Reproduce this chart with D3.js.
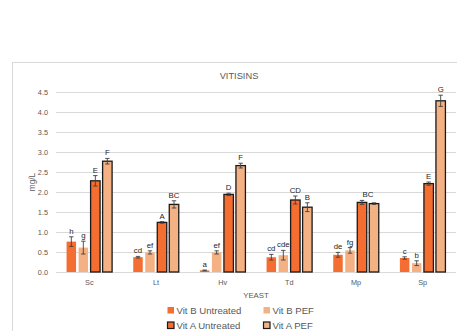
<!DOCTYPE html>
<html>
<head>
<meta charset="utf-8">
<script src="https://cdn.jsdelivr.net/npm/d3@7"></script>
<style>
  html, body { margin: 0; padding: 0; background: #ffffff; }
  svg { display: block; font-family: "Liberation Sans", Arial, sans-serif; }
</style>
</head>
<body>
<svg id="chart" width="457" height="331"></svg>
<script>
// Yeast strains on the x axis
const yeasts = ["Sc", "Lt", "Hv", "Td", "Mp", "Sp"];
// Treatments (bar series)
const seriesNames = ["Vit B Untreated", "Vit B PEF", "Vit A Untreated", "Vit A PEF"];

// Mean concentration, mg/L, one array per series (ordered like yeasts)
const vitBUntreated = [0.76, 0.37, 0.04, 0.37, 0.43, 0.35];
const vitBPEF       = [0.61, 0.49, 0.49, 0.42, 0.54, 0.22];
const vitAUntreated = [2.28, 1.24, 1.94, 1.80, 1.74, 2.21];
const vitAPEF       = [2.77, 1.69, 2.66, 1.62, 1.71, 4.28];

// Standard deviations
const errVitBUntreated = [0.12, 0.02, 0.01, 0.07, 0.06, 0.03];
const errVitBPEF       = [0.16, 0.04, 0.04, 0.12, 0.07, 0.06];
const errVitAUntreated = [0.13, 0.02, 0.03, 0.10, 0.05, 0.04];
const errVitAPEF       = [0.07, 0.09, 0.06, 0.11, 0.02, 0.14];

// Significance letters
const lettersVitBUntreated = ["h", "cd", "a", "cd", "de", "c"];
const lettersVitBPEF       = ["g", "ef", "ef", "cde", "fg", "b"];
const lettersVitAUntreated = ["E", "A", "D", "CD", "BC", "E"];
const lettersVitAPEF       = ["F", "BC", "F", "B", "", "G"];

// Y axis ticks
const yTicks = [0, 0.5, 1.0, 1.5, 2.0, 2.5, 3.0, 3.5, 4.0, 4.5];

const values = [vitBUntreated, vitBPEF, vitAUntreated, vitAPEF];
const errors = [errVitBUntreated, errVitBPEF, errVitAUntreated, errVitAPEF];
const letters = [lettersVitBUntreated, lettersVitBPEF, lettersVitAUntreated, lettersVitAPEF];

const fills = ["#f46d31", "#f4b183", "#f46d31", "#f4b183"];
const outlined = [false, false, true, true];

const rows = [];
yeasts.forEach((y, i) => {
  seriesNames.forEach((s, j) => {
    rows.push({ yeast: y, series: s, si: j, value: values[j][i], err: errors[j][i], letter: letters[j][i] });
  });
});

const svg = d3.select("#chart");
const textColor = "#595959";
const gridColor = "#d9d9d9";

// chart frame
svg.append("rect")
  .attr("x", 12.5).attr("y", 62.5)
  .attr("width", 454).attr("height", 290)
  .attr("fill", "#ffffff").attr("stroke", "#d9d9d9").attr("stroke-width", 1);

const plot = { left: 56, right: 456, top: 92, bottom: 272 };

const x0 = d3.scaleBand().domain(yeasts).range([plot.left, plot.right]).padding(0);
const x1 = d3.scaleBand().domain(seriesNames).range([0, x0.bandwidth()])
  .paddingInner(0.21).paddingOuter(0.88);
const y = d3.scaleLinear().domain([0, 4.5]).range([plot.bottom, plot.top]);

// gridlines
svg.append("g")
  .selectAll("line")
  .data(yTicks)
  .join("line")
  .attr("x1", plot.left).attr("x2", plot.right)
  .attr("y1", d => Math.round(y(d)) + 0.5).attr("y2", d => Math.round(y(d)) + 0.5)
  .attr("stroke", gridColor).attr("stroke-width", 1);

// y axis labels
const yAxis = d3.axisLeft(y).tickValues(yTicks).tickFormat(d3.format(".1f")).tickSize(0).tickPadding(8);
const yg = svg.append("g").attr("transform", `translate(${plot.left},0)`).call(yAxis);
yg.select(".domain").remove();
yg.selectAll("text").attr("fill", textColor).attr("font-size", 7.3).attr("font-family", "Liberation Sans, Arial, sans-serif");

// x axis labels
const xAxis = d3.axisBottom(x0).tickSize(0).tickPadding(8);
const xg = svg.append("g").attr("transform", `translate(0,${plot.bottom})`).call(xAxis);
xg.select(".domain").remove();
xg.selectAll("text").attr("fill", textColor).attr("font-size", 7.3).attr("font-family", "Liberation Sans, Arial, sans-serif");

// bars
const groups = svg.append("g").selectAll("g")
  .data(yeasts)
  .join("g")
  .attr("transform", d => `translate(${x0(d)},0)`);

groups.selectAll("rect")
  .data(d => rows.filter(r => r.yeast === d))
  .join("rect")
  .attr("x", d => x1(d.series))
  .attr("y", d => y(d.value))
  .attr("width", x1.bandwidth())
  .attr("height", d => y(0) - y(d.value))
  .attr("fill", d => fills[d.si])
  .attr("stroke", d => outlined[d.si] ? "#1a1a1a" : "none")
  .attr("stroke-width", 1.3);

// error bars
const eb = groups.selectAll("g.err")
  .data(d => rows.filter(r => r.yeast === d))
  .join("g").attr("class", "err");
const cx = d => x1(d.series) + x1.bandwidth() / 2;
eb.append("line")
  .attr("x1", cx).attr("x2", cx)
  .attr("y1", d => y(d.value + d.err)).attr("y2", d => y(d.value - d.err))
  .attr("stroke", "#404040").attr("stroke-width", 0.9);
eb.append("line")
  .attr("x1", d => cx(d) - 2.2).attr("x2", d => cx(d) + 2.2)
  .attr("y1", d => y(d.value + d.err)).attr("y2", d => y(d.value + d.err))
  .attr("stroke", "#404040").attr("stroke-width", 0.9);
eb.append("line")
  .attr("x1", d => cx(d) - 2.2).attr("x2", d => cx(d) + 2.2)
  .attr("y1", d => y(d.value - d.err)).attr("y2", d => y(d.value - d.err))
  .attr("stroke", "#404040").attr("stroke-width", 0.9);

// significance letters sit just above each error bar;
// the Mp "BC" is shared by both Vit A bars, so it sits between them
const sharedLabel = d => d.yeast === "Mp" && d.series === "Vit A Untreated";
groups.selectAll("text.letter")
  .data(d => rows.filter(r => r.yeast === d && r.letter))
  .join("text").attr("class", "letter")
  .attr("x", d => cx(d) + (sharedLabel(d) ? x1.step() / 2 : 0))
  .attr("y", d => y(d.value + d.err) - 3)
  .attr("text-anchor", "middle")
  .attr("font-size", 7.8)
  .attr("fill", "#262626")
  .text(d => d.letter);

// title
svg.append("text")
  .attr("x", 239).attr("y", 79)
  .attr("text-anchor", "middle")
  .attr("font-size", 9.3)
  .attr("fill", textColor)
  .text("VITISINS");

// axis titles
svg.append("text")
  .attr("transform", `translate(35,${(plot.top + plot.bottom) / 2}) rotate(-90)`)
  .attr("text-anchor", "middle")
  .attr("font-size", 8.3)
  .attr("fill", textColor)
  .text("mg/L");

svg.append("text")
  .attr("x", (plot.left + plot.right) / 2).attr("y", 298)
  .attr("text-anchor", "middle")
  .attr("font-size", 7.8)
  .attr("fill", textColor)
  .text("YEAST");

// legend
const legendPos = [[167, 310.5], [263, 310.5], [167, 325.5], [263, 325.5]];
const legend = svg.append("g").selectAll("g")
  .data(seriesNames)
  .join("g")
  .attr("transform", (d, i) => `translate(${legendPos[i][0]},${legendPos[i][1]})`);
legend.append("rect")
  .attr("x", 0.5).attr("y", -3.5)
  .attr("width", 6.5).attr("height", 6.5)
  .attr("fill", (d, i) => fills[i])
  .attr("stroke", (d, i) => outlined[i] ? "#1a1a1a" : "none")
  .attr("stroke-width", 1.2);
legend.append("text")
  .attr("x", 9.5).attr("y", 3.4)
  .attr("font-size", 9.6)
  .attr("fill", textColor)
  .text(d => d);
</script>
</body>
</html>
